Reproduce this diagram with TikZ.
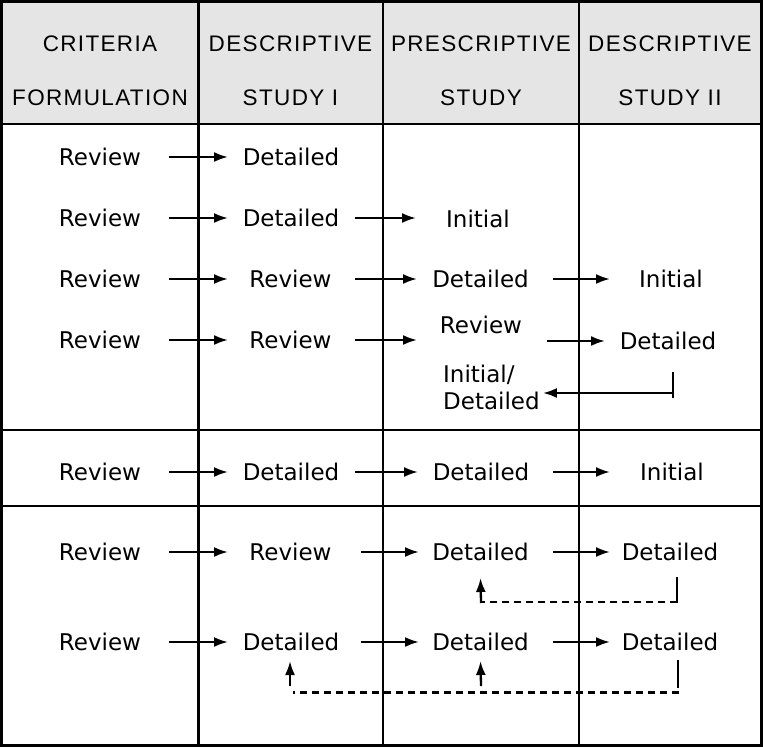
\documentclass[tikz,border=0pt]{standalone}
\usepackage{fontspec}
\usetikzlibrary{arrows.meta}
\newfontfamily\bodyf{DejaVu Sans}
\newfontfamily\headf[LetterSpace=6.0]{Liberation Sans}
\definecolor{hdrgray}{HTML}{E5E5E5}
\begin{document}
\begin{tikzpicture}[x=1pt,y=-1pt,
  grid/.style={line width=2.8pt},
  body/.style={font=\bodyf\fontsize{23}{27}\selectfont, inner sep=0pt, text height=16.8pt, text depth=0pt},
  multi/.style={font=\bodyf\fontsize{23}{27}\selectfont, inner sep=0pt, align=left},
  head/.style={font=\headf\fontsize{22.5}{26}\selectfont, inner sep=0pt, text height=16pt, text depth=0pt},
  arr/.style={line width=2.3pt, -{Latex[length=14pt,width=10pt]}},
  bar/.style={line width=2.3pt},
  fb/.style={line width=2.3pt, dash pattern=on 7.5pt off 4.5pt}]
\useasboundingbox (0,0) rectangle (763,747);
% header background and grid
\fill[hdrgray] (1.4,1.4) rectangle (761.6,124);
\draw[grid] (1.4,124) -- (761.6,124);
\draw[grid] (1.4,430) -- (761.6,430);
\draw[grid] (1.4,506) -- (761.6,506);
\draw[grid] (198.5,1.4) -- (198.5,745.4);
\draw[grid] (383,1.4) -- (383,745.4);
\draw[grid] (579,1.4) -- (579,745.4);
\draw[grid] (1.4,1.4) rectangle (761.6,745.4);
% header
\node[head] (h1a) at (100,43) {CRITERIA};
\node[head] (h1b) at (100,97) {FORMULATION};
\node[head] (h2a) at (290.5,43) {DESCRIPTIVE};
\node[head] (h2b) at (290.5,97) {STUDY I};
\node[head] (h3a) at (481,43) {PRESCRIPTIVE};
\node[head] (h3b) at (481,97) {STUDY};
\node[head] (h4a) at (670,43) {DESCRIPTIVE};
\node[head] (h4b) at (670,97) {STUDY II};
% row 1
\node[body] (r1a) at (100,157) {Review};
\node[body] (r1b) at (291,157) {Detailed};
% row 2
\node[body] (r2a) at (100,218) {Review};
\node[body] (r2b) at (291,218) {Detailed};
\node[body] (r2c) at (478,219) {Initial};
% row 3
\node[body] (r3a) at (100,279) {Review};
\node[body] (r3b) at (290.5,279) {Review};
\node[body] (r3c) at (480.5,279) {Detailed};
\node[body] (r3d) at (671,279) {Initial};
% row 4
\node[body] (r4a) at (100,340) {Review};
\node[body] (r4b) at (290.5,340) {Review};
\node[body] (r4c) at (481,325) {Review};
\node[body] (r4d) at (668,341) {Detailed};
\node[multi, anchor=north west] (r4e) at (443,365) {Initial/\\Detailed};
% row 5
\node[body] (r5a) at (100,472) {Review};
\node[body] (r5b) at (291,472) {Detailed};
\node[body] (r5c) at (481,472) {Detailed};
\node[body] (r5d) at (672,472) {Initial};
% row 6
\node[body] (r6a) at (100,552) {Review};
\node[body] (r6b) at (290.5,552) {Review};
\node[body] (r6c) at (480.5,552) {Detailed};
\node[body] (r6d) at (670,552) {Detailed};
% row 7
\node[body] (r7a) at (100,642) {Review};
\node[body] (r7b) at (291,642) {Detailed};
\node[body] (r7c) at (480.5,642) {Detailed};
\node[body] (r7d) at (670,642) {Detailed};
% arrows column 1 -> 2
\draw[arr] (169,0 |- r1a) -- (228,0 |- r1b);
\draw[arr] (169,0 |- r2a) -- (228,0 |- r2b);
\draw[arr] (169,0 |- r3a) -- (228,0 |- r3b);
\draw[arr] (169,0 |- r4a) -- (228,0 |- r4b);
\draw[arr] (169,0 |- r5a) -- (228,0 |- r5b);
\draw[arr] (169,0 |- r6a) -- (228,0 |- r6b);
\draw[arr] (169,0 |- r7a) -- (228,0 |- r7b);
% arrows column 2 -> 3
\draw[arr] (355,0 |- r2b) -- (416,0 |- r2b);
\draw[arr] (355,0 |- r3b) -- (417,0 |- r3c);
\draw[arr] (355,0 |- r4b) -- (417,0 |- r4b);
\draw[arr] (355,0 |- r5b) -- (418,0 |- r5c);
\draw[arr] (361,0 |- r6b) -- (419,0 |- r6c);
\draw[arr] (361,0 |- r7b) -- (419,0 |- r7c);
% arrows column 3 -> 4
\draw[arr] (553,0 |- r3c) -- (610,0 |- r3d);
\draw[arr] (547,0 |- r4d) -- (605,0 |- r4d);
\draw[arr] (553,0 |- r5c) -- (610,0 |- r5d);
\draw[arr] (553,0 |- r6c) -- (610,0 |- r6d);
\draw[arr] (553,0 |- r7c) -- (610,0 |- r7d);
% return arrow row 4
\coordinate (ret) at (673,393);
\draw[bar] (673,372) -- (673,398);
\draw[arr, shorten >=3pt] (ret) -- (r4e.east |- ret);
% feedback row 6
\coordinate (f6r) at (677,602);
\coordinate (f6l) at (481,602);
\draw[bar] (677,577) -- (677,603);
\draw[fb] (f6r) -- (f6l);
\draw[arr] (481,603) -- (r6c.south |- 0,578);
% feedback row 7
\coordinate (f7r) at (679,692.5);
\coordinate (f7l) at (293,692.5);
\draw[bar] (678,660) -- (678,687.5);
\draw[fb] (f7r) -- (f7l);
\draw[arr] (290,686) -- (290,661);
\draw[arr] (481,686) -- (r7c.south |- 0,661);
\end{tikzpicture}
\end{document}
